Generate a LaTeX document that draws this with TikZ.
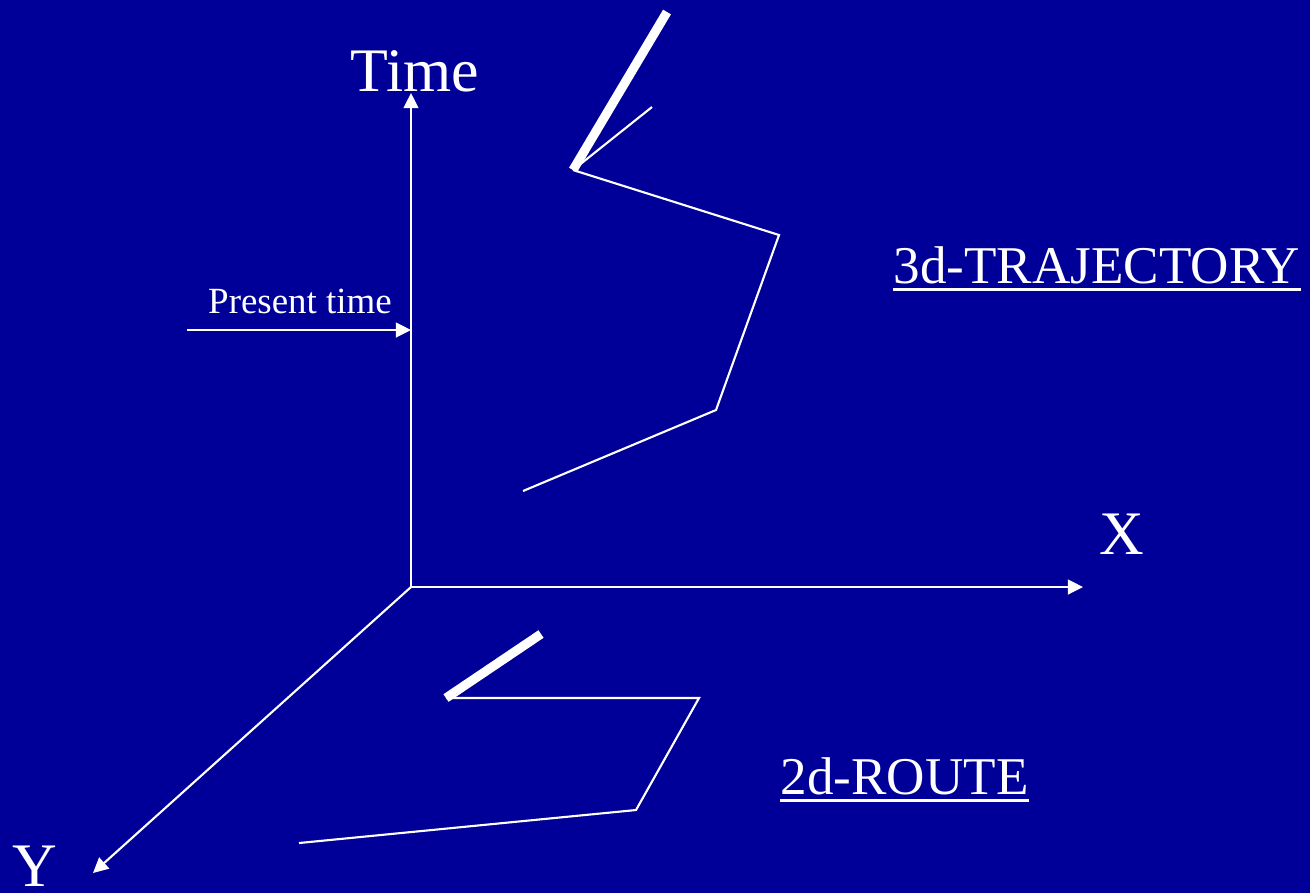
\documentclass[tikz,border=0pt]{standalone}
\usepackage{fontspec}
\setmainfont{Liberation Serif}
\usetikzlibrary{arrows.meta}
\definecolor{bgblue}{RGB}{0,0,153}

\tikzset{
    axis/.style={white, line width=0.6pt, -{Triangle[length=4.3pt, width=4.2pt]}},
    path line/.style={white, line width=0.6pt, line join=miter},
    heading/.style={white, line width=2.6pt},
    underbar/.style={white, line width=0.85pt},
    bigtext/.style={white, inner sep=0pt, anchor=base, font=\fontsize{17.6}{20}\selectfont},
    titletext/.style={white, inner sep=0pt, anchor=base west, font=\fontsize{15.1}{18}\selectfont},
}

\begin{document}
\begin{tikzpicture}[x=0.01cm, y=-0.01cm]
    % 1. Nen
    \fill[bgblue] (0,0) rectangle (1310,893);
    \useasboundingbox (0,0) rectangle (1310,893);

    % 2. Cac truc toa do
    \coordinate (O) at (411,587);
    \coordinate (tEnd) at (411,93);
    \coordinate (xEnd) at (1083,587);
    \coordinate (yEnd) at (93,873);
    \draw[axis] (O) -- (tEnd);
    \draw[axis] (O) -- (xEnd);
    \draw[axis] (O) -- (yEnd);

    \node[bigtext] (timeLabel) at (415,91) {Time};
    \node[bigtext] (xLabel) at (1122,554) {X};
    \node[bigtext] (yLabel) at (35,886) {Y};

    % Mui ten thoi diem hien tai
    \coordinate (nowStart) at (187,330);
    \coordinate (nowEnd) at (411,330);
    \draw[axis] (nowStart) -- (nowEnd);
    \node[white, inner sep=0pt, anchor=base, font=\fontsize{10.5}{12}\selectfont] (nowLabel) at (300,313) {Present time};

    % 3. Quy dao 3 chieu
    \coordinate (a0) at (573,170);
    \coordinate (a1) at (779,235);
    \coordinate (a2) at (716,410);
    \coordinate (a3) at (523,491);
    \draw[heading] (a0) -- (667,12);
    \draw[path line] (a0) -- (652,107);
    \draw[path line] (a0) -- (a1) -- (a2) -- (a3);
    \node[titletext] (trajLabel) at (893,283) {3d-TRAJECTORY};
    \draw[underbar] ([yshift=-1.9pt]trajLabel.base west) -- ([yshift=-1.9pt]trajLabel.base east);

    % 4. Lo trinh 2 chieu
    \coordinate (b0) at (446,698);
    \coordinate (b1) at (699,698);
    \coordinate (b2) at (636,810);
    \coordinate (b3) at (299,843);
    \draw[heading] (b0) -- (541,634);
    \draw[path line] (b0) -- (b1) -- (b2) -- (b3);
    \node[titletext] (routeLabel) at (780,794) {2d-ROUTE};
    \draw[underbar] ([yshift=-1.9pt]routeLabel.base west) -- ([yshift=-1.9pt]routeLabel.base east);

\end{tikzpicture}
\end{document}
